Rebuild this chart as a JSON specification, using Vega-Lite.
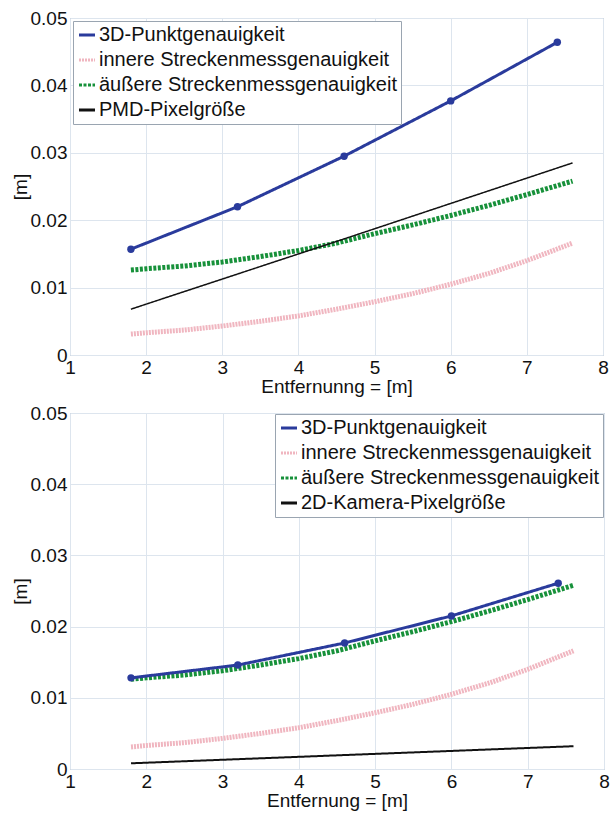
{
  "$schema": "https://vega.github.io/schema/vega-lite/v6.json",
  "background": "white",
  "padding": {"left": 10, "top": 8, "right": 5, "bottom": 5},
  "spacing": 6,
  "datasets": {
    "d": [
      {"p": "top", "s": "3D-Punktgenauigkeit", "x": 1.8, "y": 0.0157},
      {"p": "top", "s": "3D-Punktgenauigkeit", "x": 3.2, "y": 0.0220},
      {"p": "top", "s": "3D-Punktgenauigkeit", "x": 4.6, "y": 0.0295},
      {"p": "top", "s": "3D-Punktgenauigkeit", "x": 6.0, "y": 0.0377},
      {"p": "top", "s": "3D-Punktgenauigkeit", "x": 7.4, "y": 0.0464},
      {"p": "bottom", "s": "3D-Punktgenauigkeit", "x": 1.8, "y": 0.0128},
      {"p": "bottom", "s": "3D-Punktgenauigkeit", "x": 3.2, "y": 0.0146},
      {"p": "bottom", "s": "3D-Punktgenauigkeit", "x": 4.6, "y": 0.0177},
      {"p": "bottom", "s": "3D-Punktgenauigkeit", "x": 6.0, "y": 0.0215},
      {"p": "bottom", "s": "3D-Punktgenauigkeit", "x": 7.4, "y": 0.0261},
      {"p": "both", "s": "innere Streckenmessgenauigkeit", "x": 1.8, "y": 0.0031},
      {"p": "both", "s": "innere Streckenmessgenauigkeit", "x": 2.0, "y": 0.0033},
      {"p": "both", "s": "innere Streckenmessgenauigkeit", "x": 2.5, "y": 0.0037},
      {"p": "both", "s": "innere Streckenmessgenauigkeit", "x": 3.0, "y": 0.0043},
      {"p": "both", "s": "innere Streckenmessgenauigkeit", "x": 3.5, "y": 0.0050},
      {"p": "both", "s": "innere Streckenmessgenauigkeit", "x": 4.0, "y": 0.0058},
      {"p": "both", "s": "innere Streckenmessgenauigkeit", "x": 4.5, "y": 0.0068},
      {"p": "both", "s": "innere Streckenmessgenauigkeit", "x": 5.0, "y": 0.0079},
      {"p": "both", "s": "innere Streckenmessgenauigkeit", "x": 5.5, "y": 0.0091},
      {"p": "both", "s": "innere Streckenmessgenauigkeit", "x": 6.0, "y": 0.0105},
      {"p": "both", "s": "innere Streckenmessgenauigkeit", "x": 6.5, "y": 0.0121},
      {"p": "both", "s": "innere Streckenmessgenauigkeit", "x": 7.0, "y": 0.0140},
      {"p": "both", "s": "innere Streckenmessgenauigkeit", "x": 7.6, "y": 0.0166},
      {"p": "both", "s": "äußere Streckenmessgenauigkeit", "x": 1.8, "y": 0.0126},
      {"p": "both", "s": "äußere Streckenmessgenauigkeit", "x": 2.0, "y": 0.0128},
      {"p": "both", "s": "äußere Streckenmessgenauigkeit", "x": 2.5, "y": 0.0132},
      {"p": "both", "s": "äußere Streckenmessgenauigkeit", "x": 3.0, "y": 0.0138},
      {"p": "both", "s": "äußere Streckenmessgenauigkeit", "x": 3.5, "y": 0.0146},
      {"p": "both", "s": "äußere Streckenmessgenauigkeit", "x": 4.0, "y": 0.0155},
      {"p": "both", "s": "äußere Streckenmessgenauigkeit", "x": 4.5, "y": 0.0166},
      {"p": "both", "s": "äußere Streckenmessgenauigkeit", "x": 5.0, "y": 0.0180},
      {"p": "both", "s": "äußere Streckenmessgenauigkeit", "x": 5.5, "y": 0.0193},
      {"p": "both", "s": "äußere Streckenmessgenauigkeit", "x": 6.0, "y": 0.0207},
      {"p": "both", "s": "äußere Streckenmessgenauigkeit", "x": 6.5, "y": 0.0222},
      {"p": "both", "s": "äußere Streckenmessgenauigkeit", "x": 7.0, "y": 0.0238},
      {"p": "both", "s": "äußere Streckenmessgenauigkeit", "x": 7.6, "y": 0.0258},
      {"p": "top", "s": "PMD-Pixelgröße", "x": 1.8, "y": 0.0068},
      {"p": "top", "s": "PMD-Pixelgröße", "x": 4.7, "y": 0.0176},
      {"p": "top", "s": "PMD-Pixelgröße", "x": 7.6, "y": 0.0285},
      {"p": "bottom", "s": "2D-Kamera-Pixelgröße", "x": 1.8, "y": 0.0008},
      {"p": "bottom", "s": "2D-Kamera-Pixelgröße", "x": 4.7, "y": 0.0020},
      {"p": "bottom", "s": "2D-Kamera-Pixelgröße", "x": 7.6, "y": 0.0032}
    ]
  },
  "data": {"name": "d"},
  "resolve": {
    "scale": {"color": "independent", "strokeDash": "independent"},
    "legend": {"color": "independent", "strokeDash": "independent"}
  },
  "vconcat": [
    {
      "width": 533,
      "height": 337,
      "transform": [{"filter": "datum.p == 'top' || datum.p == 'both'"}],
      "layer": [
        {
          "transform": [{"filter": "datum.s == 'innere Streckenmessgenauigkeit'"}],
          "mark": {"type": "line", "strokeWidth": 5},
          "encoding": {
            "x": {"field": "x", "type": "quantitative", "scale": {"domain": [1, 8], "nice": false}, "axis": {"values": [1, 2, 3, 4, 5, 6, 7, 8], "format": "d", "title": "Entfernunng = [m]"}},
            "y": {"field": "y", "type": "quantitative", "scale": {"domain": [0, 0.05], "nice": false}, "axis": {"values": [0, 0.01, 0.02, 0.03, 0.04, 0.05], "format": ".2~f", "title": "[m]"}},
            "color": {"field": "s", "type": "nominal", "scale": {"domain": ["3D-Punktgenauigkeit", "innere Streckenmessgenauigkeit", "äußere Streckenmessgenauigkeit", "PMD-Pixelgröße"], "range": ["#2a3b9c", "#f0b6c0", "#17913a", "#111111"]}, "legend": {"title": null, "orient": "top-left", "offset": 3}},
            "strokeDash": {"field": "s", "type": "nominal", "scale": {"domain": ["3D-Punktgenauigkeit", "innere Streckenmessgenauigkeit", "äußere Streckenmessgenauigkeit", "PMD-Pixelgröße"], "range": [[1, 0], [2, 1], [3, 1.5], [1, 0]]}, "legend": {"title": null, "orient": "top-left", "offset": 3}}
          }
        },
        {
          "transform": [{"filter": "datum.s == 'äußere Streckenmessgenauigkeit'"}],
          "mark": {"type": "line", "strokeWidth": 5},
          "encoding": {
            "x": {"field": "x", "type": "quantitative"},
            "y": {"field": "y", "type": "quantitative"},
            "color": {"field": "s", "type": "nominal"},
            "strokeDash": {"field": "s", "type": "nominal"}
          }
        },
        {
          "transform": [{"filter": "datum.s == 'PMD-Pixelgröße'"}],
          "mark": {"type": "line", "strokeWidth": 1.5},
          "encoding": {
            "x": {"field": "x", "type": "quantitative"},
            "y": {"field": "y", "type": "quantitative"},
            "color": {"field": "s", "type": "nominal"},
            "strokeDash": {"field": "s", "type": "nominal"}
          }
        },
        {
          "transform": [{"filter": "datum.s == '3D-Punktgenauigkeit'"}],
          "mark": {"type": "line", "strokeWidth": 3},
          "encoding": {
            "x": {"field": "x", "type": "quantitative"},
            "y": {"field": "y", "type": "quantitative"},
            "color": {"field": "s", "type": "nominal"},
            "strokeDash": {"field": "s", "type": "nominal"}
          }
        },
        {
          "transform": [{"filter": "datum.s == '3D-Punktgenauigkeit'"}],
          "mark": {"type": "point", "filled": true, "size": 55, "color": "#2a3b9c", "opacity": 1},
          "encoding": {
            "x": {"field": "x", "type": "quantitative"},
            "y": {"field": "y", "type": "quantitative"}
          }
        }
      ]
    },
    {
      "width": 534,
      "height": 356,
      "transform": [{"filter": "datum.p == 'bottom' || datum.p == 'both'"}],
      "layer": [
        {
          "transform": [{"filter": "datum.s == 'innere Streckenmessgenauigkeit'"}],
          "mark": {"type": "line", "strokeWidth": 5},
          "encoding": {
            "x": {"field": "x", "type": "quantitative", "scale": {"domain": [1, 8], "nice": false}, "axis": {"values": [1, 2, 3, 4, 5, 6, 7, 8], "format": "d", "title": "Entfernung = [m]"}},
            "y": {"field": "y", "type": "quantitative", "scale": {"domain": [0, 0.05], "nice": false}, "axis": {"values": [0, 0.01, 0.02, 0.03, 0.04, 0.05], "format": ".2~f", "title": "[m]"}},
            "color": {"field": "s", "type": "nominal", "scale": {"domain": ["3D-Punktgenauigkeit", "innere Streckenmessgenauigkeit", "äußere Streckenmessgenauigkeit", "2D-Kamera-Pixelgröße"], "range": ["#2a3b9c", "#f0b6c0", "#17913a", "#111111"]}, "legend": {"title": null, "orient": "top-right", "offset": 1}},
            "strokeDash": {"field": "s", "type": "nominal", "scale": {"domain": ["3D-Punktgenauigkeit", "innere Streckenmessgenauigkeit", "äußere Streckenmessgenauigkeit", "2D-Kamera-Pixelgröße"], "range": [[1, 0], [2, 1], [3, 1.5], [1, 0]]}, "legend": {"title": null, "orient": "top-right", "offset": 1}}
          }
        },
        {
          "transform": [{"filter": "datum.s == 'äußere Streckenmessgenauigkeit'"}],
          "mark": {"type": "line", "strokeWidth": 5},
          "encoding": {
            "x": {"field": "x", "type": "quantitative"},
            "y": {"field": "y", "type": "quantitative"},
            "color": {"field": "s", "type": "nominal"},
            "strokeDash": {"field": "s", "type": "nominal"}
          }
        },
        {
          "transform": [{"filter": "datum.s == '2D-Kamera-Pixelgröße'"}],
          "mark": {"type": "line", "strokeWidth": 2},
          "encoding": {
            "x": {"field": "x", "type": "quantitative"},
            "y": {"field": "y", "type": "quantitative"},
            "color": {"field": "s", "type": "nominal"},
            "strokeDash": {"field": "s", "type": "nominal"}
          }
        },
        {
          "transform": [{"filter": "datum.s == '3D-Punktgenauigkeit'"}],
          "mark": {"type": "line", "strokeWidth": 3},
          "encoding": {
            "x": {"field": "x", "type": "quantitative"},
            "y": {"field": "y", "type": "quantitative"},
            "color": {"field": "s", "type": "nominal"},
            "strokeDash": {"field": "s", "type": "nominal"}
          }
        },
        {
          "transform": [{"filter": "datum.s == '3D-Punktgenauigkeit'"}],
          "mark": {"type": "point", "filled": true, "size": 55, "color": "#2a3b9c", "opacity": 1},
          "encoding": {
            "x": {"field": "x", "type": "quantitative"},
            "y": {"field": "y", "type": "quantitative"}
          }
        }
      ]
    }
  ],
  "config": {
    "font": "Liberation Sans",
    "view": {"stroke": "#9aa5b1", "strokeWidth": 1},
    "axis": {
      "labelFontSize": 19,
      "titleFontSize": 19,
      "titleFontWeight": "normal",
      "labelColor": "#111111",
      "titleColor": "#111111",
      "gridColor": "#dde5ee",
      "gridOpacity": 1,
      "domain": false,
      "ticks": false,
      "labelPadding": 3,
      "titlePadding": 0,
      "labelFlush": false,
      "labelOverlap": false
    },
    "legend": {
      "labelFontSize": 20,
      "labelColor": "#111111",
      "symbolType": "stroke",
      "symbolSize": 256,
      "symbolStrokeWidth": 3,
      "labelOffset": 2,
      "rowPadding": 5,
      "padding": 4,
      "fillColor": "white",
      "strokeColor": "#9aa5b1",
      "labelLimit": 400
    }
  }
}
